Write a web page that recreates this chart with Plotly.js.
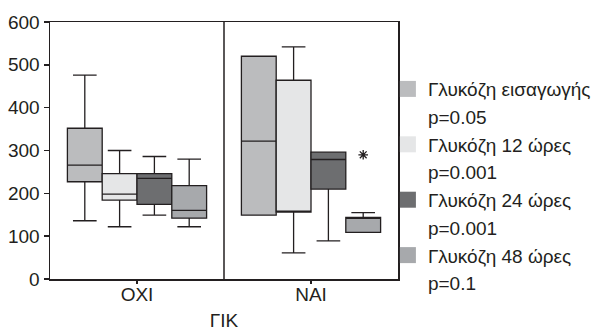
<!DOCTYPE html>
<html>
<head>
<meta charset="utf-8">
<script src="https://cdn.plot.ly/plotly-3.0.1.min.js"></script>
<style>html,body{margin:0;padding:0;background:#fff;}#chart{width:596px;height:331px;}</style>
</head>
<body>
<div id="chart"></div>
<script>
const categories = ['ΟΧΙ', 'ΝΑΙ'];
const seriesNames = ['Γλυκόζη εισαγωγής', 'Γλυκόζη 12 ώρες', 'Γλυκόζη 24 ώρες', 'Γλυκόζη 48 ώρες'];
const pValues = ['p=0.05', 'p=0.001', 'p=0.001', 'p=0.1'];
const seriesColors = ['#bbbcbe', '#e5e6e7', '#6d6e70', '#a7a9ac'];
// per series: [ΟΧΙ, ΝΑΙ]
const lowerFence = [[136, 149], [122, 61], [149, 89], [122, 109]];
const q1Vals     = [[227, 149], [184, 156], [174, 210], [142, 109]];
const medians    = [[266, 322], [198, 156], [235, 279], [160, 144]];
const q3Vals     = [[352, 520], [246, 464], [246, 296], [218, 144]];
const upperFence = [[476, 520], [300, 542], [286, 296], [280, 155]];
const outliers   = [[[], []], [[], []], [[], []], [[], [290]]];
const axisTitle = 'ΓΙΚ';

const ink = '#231f20';
const FONT = 'Liberation Sans, Arial, sans-serif';
const traces = [];
seriesNames.forEach((name, i) => {
  const hasPts = outliers[i].some(r => r.length);
  const t = {
    type: 'box',
    name: name,
    x: categories,
    q1: q1Vals[i],
    median: medians[i],
    q3: q3Vals[i],
    lowerfence: lowerFence[i],
    upperfence: upperFence[i],
    boxpoints: hasPts ? 'outliers' : false,
    fillcolor: seriesColors[i],
    line: {color: ink, width: 1.3},
    whiskerwidth: 0.68,
    marker: {symbol: 'asterisk-open', size: 8, color: ink, line: {color: ink, width: 1.3}},
    showlegend: false,
    hoverinfo: 'skip'
  };
  if (hasPts) t.y = outliers[i].map(r => r.length ? r : [null]);
  traces.push(t);
});
seriesNames.forEach((name, i) => {
  traces.push({
    type: 'scatter', mode: 'markers', x: [null], y: [null], name: name,
    legendgroup: 'g' + i,
    marker: {symbol: 'square', size: 16, color: seriesColors[i]},
    showlegend: true, hoverinfo: 'skip'
  });
  traces.push({
    type: 'scatter', mode: 'none', x: [null], y: [null], name: pValues[i],
    legendgroup: 'g' + i,
    showlegend: true, hoverinfo: 'skip'
  });
});

const layout = {
  width: 596, height: 331,
  margin: {l: 50, r: 198, t: 22, b: 52, pad: 0, autoexpand: false},
  paper_bgcolor: '#fff', plot_bgcolor: '#fff',
  font: {family: FONT, size: 19, color: ink},
  boxmode: 'group', boxgap: 0.2, boxgroupgap: 0,
  showlegend: true,
  legend: {x: 0.971, y: 0.813, xanchor: 'left', yanchor: 'top',
           font: {family: FONT, size: 19, color: ink}, tracegroupgap: 0,
           bgcolor: 'rgba(0,0,0,0)', itemsizing: 'trace', traceorder: 'grouped'},
  xaxis: {type: 'category', categoryorder: 'array', categoryarray: categories,
          showline: true, mirror: true, linecolor: ink, linewidth: 1.5,
          ticks: 'outside', ticklen: 3, tickcolor: ink, tickwidth: 1.5,
          ticklabelstandoff: -5,
          showgrid: false, zeroline: false, tickfont: {size: 19},
          title: {text: axisTitle, font: {size: 19}, standoff: 13}, automargin: false},
  yaxis: {range: [0, 600], dtick: 100, tick0: 0,
          showline: true, mirror: true, linecolor: ink, linewidth: 1.5,
          ticks: 'outside', ticklen: 5, tickcolor: ink, tickwidth: 1.5,
          showgrid: false, zeroline: false, tickfont: {size: 19}, automargin: false},
  shapes: [{type: 'line', xref: 'x', yref: 'paper', x0: 0.5, x1: 0.5, y0: 0, y1: 1,
            line: {color: ink, width: 1.5}}]
};
Plotly.newPlot('chart', traces, layout, {displayModeBar: false, staticPlot: true});
</script>
</body>
</html>
